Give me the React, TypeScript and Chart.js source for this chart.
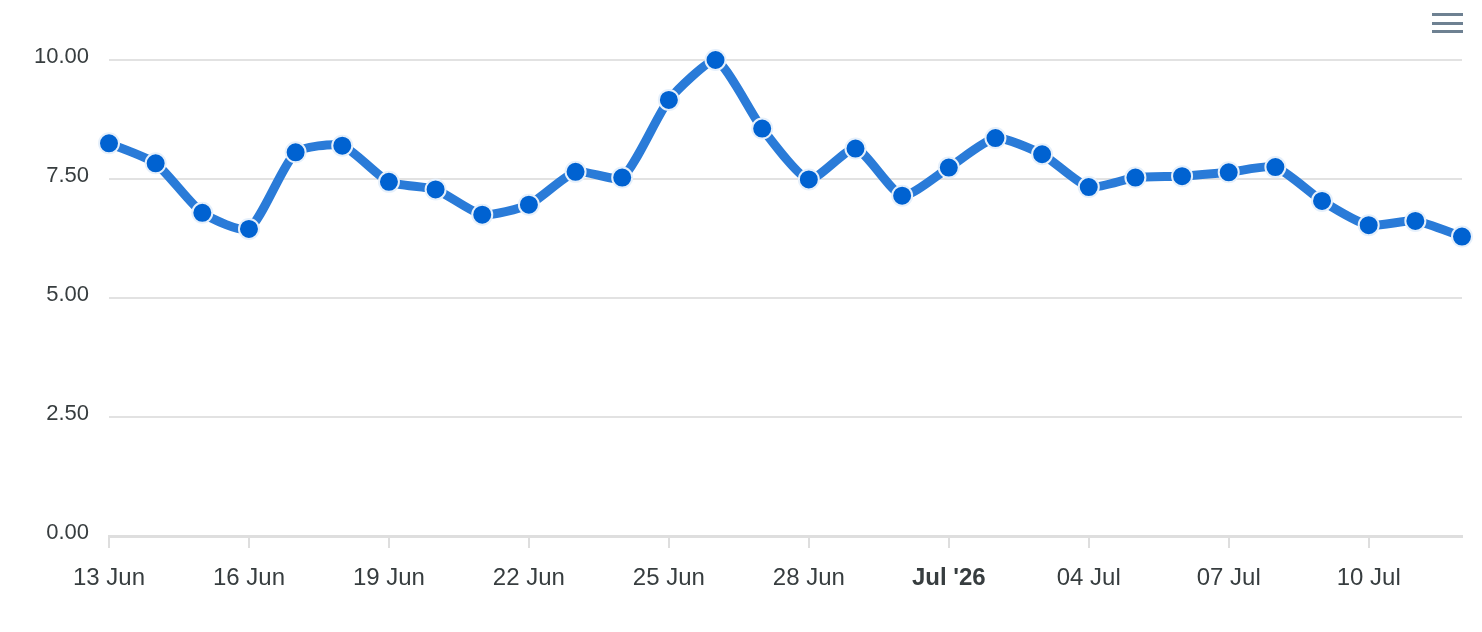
import React, { useEffect, useRef } from "react";
import { Chart, registerables } from "chart.js";

Chart.register(...registerables);

const dates: string[] = [
  "13 Jun", "14 Jun", "15 Jun", "16 Jun", "17 Jun", "18 Jun", "19 Jun", "20 Jun", "21 Jun", "22 Jun",
  "23 Jun", "24 Jun", "25 Jun", "26 Jun", "27 Jun", "28 Jun", "29 Jun", "30 Jun",
  "Jul '26", "02 Jul", "03 Jul", "04 Jul", "05 Jul", "06 Jul", "07 Jul", "08 Jul", "09 Jul", "10 Jul", "11 Jul", "12 Jul",
];

const values: number[] = [
  8.25, 7.83, 6.79, 6.45, 8.06, 8.2, 7.44, 7.28, 6.75, 6.96,
  7.65, 7.53, 9.16, 10.0, 8.56, 7.49, 8.14, 7.15,
  7.74, 8.36, 8.02, 7.33, 7.53, 7.56, 7.64, 7.75, 7.04, 6.53, 6.62, 6.29,
];

const yTicks: number[] = [0, 2.5, 5, 7.5, 10];

const FONT = "'Liberation Sans', Arial, Helvetica, sans-serif";

export default function App() {
  const canvasRef = useRef<HTMLCanvasElement | null>(null);

  useEffect(() => {
    const canvas = canvasRef.current;
    if (!canvas) return;
    const chart = new Chart(canvas, {
      type: "line",
      data: {
        labels: dates,
        datasets: [
          {
            data: values,
            borderColor: "#2a7bd8",
            borderWidth: 9,
            tension: 0.2,
            borderCapStyle: "round",
            borderJoinStyle: "round",
            pointRadius: 10,
            pointHoverRadius: 10,
            pointBackgroundColor: "#0062d1",
            pointBorderColor: "#e6f0fb",
            pointBorderWidth: 2,
            clip: false,
            fill: false,
          },
        ],
      },
      options: {
        animation: false,
        responsive: false,
        maintainAspectRatio: false,
        layout: { padding: { top: 60, right: 20, left: 0, bottom: 0 } },
        plugins: {
          legend: { display: false },
          tooltip: { enabled: false },
        },
        scales: {
          x: {
            type: "category",
            offset: false,
            afterFit: (s: any) => {
              s.height = 96;
            },
            border: { display: true, color: "#dedede", width: 3 },
            grid: {
              display: true,
              drawOnChartArea: false,
              drawTicks: true,
              tickLength: 12,
              color: "#dedede",
              lineWidth: 2,
            },
            ticks: {
              autoSkip: false,
              maxRotation: 0,
              minRotation: 0,
              padding: 16,
              color: "#373d3f",
              callback: (_v: any, i: number) => (i % 3 === 0 ? dates[i] : null),
              font: (ctx: any) => ({
                family: FONT,
                size: 24,
                weight: ctx.tick && ctx.tick.label === "Jul '26" ? "bold" : "normal",
              }),
            },
          },
          y: {
            min: 0,
            max: 10,
            afterFit: (s: any) => {
              s.width = 109;
            },
            afterBuildTicks: (s: any) => {
              s.ticks = yTicks.map((v) => ({ value: v }));
            },
            border: { display: false },
            grid: {
              color: "#e2e2e2",
              lineWidth: 2,
              drawTicks: false,
            },
            ticks: {
              padding: 20,
              color: "#373d3f",
              font: { family: FONT, size: 22, lineHeight: "6px" },
              callback: (v: any) => [Number(v).toFixed(2), ""],
            },
          },
        },
      },
    });
    return () => chart.destroy();
  }, []);

  const bar: React.CSSProperties = {
    position: "absolute",
    left: 1432,
    width: 31,
    height: 3,
    background: "#6e8192",
  };

  return (
    <div style={{ position: "fixed", left: 0, top: 0, width: 1482, height: 632, background: "#fff" }}>
      <canvas ref={canvasRef} width={1482} height={632} style={{ display: "block", width: 1482, height: 632 }} />
      <div style={{ ...bar, top: 13 }} />
      <div style={{ ...bar, top: 22 }} />
      <div style={{ ...bar, top: 30 }} />
    </div>
  );
}
